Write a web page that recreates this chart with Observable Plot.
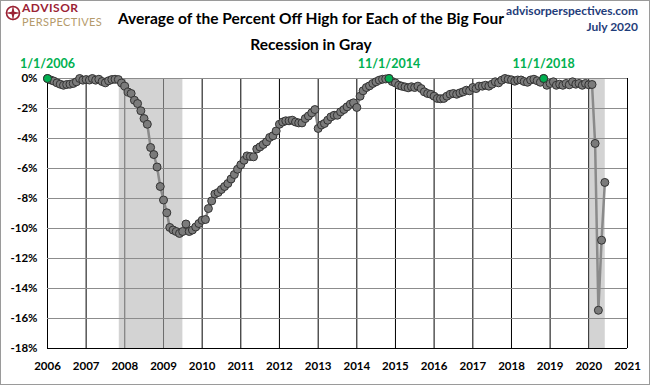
<!DOCTYPE html>
<html><head><meta charset="utf-8">
<script src="https://cdn.jsdelivr.net/npm/d3@7"></script>
<script src="https://cdn.jsdelivr.net/npm/@observablehq/plot@0.6"></script>
<style>
body{margin:0;background:#fff;font-family:Lato,"Open Sans",sans-serif;}
#wrap{position:relative;width:650px;height:385px;overflow:hidden;background:#fff;}
#chart{position:absolute;left:0;top:0;}
#border{position:absolute;left:0;top:0;width:650px;height:385px;box-sizing:border-box;border:1px solid #9a9a9a;pointer-events:none;}
.t{position:absolute;white-space:nowrap;}
</style></head><body>
<div id="wrap">
  <div id="chart"></div>
  <div class="t" style="left:0;width:622px;top:5px;text-align:center;font-weight:bold;font-size:15.5px;line-height:26px;color:#000;">Average of the Percent Off High for Each of the Big Four<br>Recession in Gray</div>
  <div class="t" style="right:12px;top:3px;text-align:right;font-weight:bold;font-size:12px;line-height:16px;color:#1f3d7a;">advisorperspectives.com<br>July 2020</div>
  <svg class="t" style="left:5px;top:5px;" width="16" height="16" viewBox="0 0 16 16">
    <circle cx="8" cy="8" r="6.5" fill="none" stroke="#9b2335" stroke-width="1.6"/>
    <path d="M8 0 L9.3 6.7 L16 8 L9.3 9.3 L8 16 L6.7 9.3 L0 8 L6.7 6.7 Z" fill="#9b2335"/>
  </svg>
  <div class="t" style="left:22px;top:1px;font-weight:bold;font-size:12px;line-height:14px;color:#9b2335;letter-spacing:0.5px;">ADVISOR</div>
  <div class="t" style="left:22px;top:15px;font-size:11px;line-height:13px;color:#b59b6b;letter-spacing:0.4px;">PERSPECTIVES</div>
  <div id="border"></div>
</div>
<script>
// Monthly series, starting January 2006
const startMonth = "2006-01-01";
const pctOffHigh = [
  0.00, -0.10, -0.17, -0.29, -0.38, -0.45, -0.40, -0.38, -0.33, -0.22, 0.00, -0.11,
  -0.07, -0.10, 0.00, -0.11, -0.05, -0.20, -0.29, -0.15, -0.07, -0.05, -0.07, -0.30,
  -0.51, -0.90, -1.00, -1.45, -1.67, -2.15, -2.67, -3.05, -4.60, -5.07, -5.90, -7.20,
  -8.10, -8.95, -9.93, -10.10, -10.20, -10.33, -10.20, -9.70, -10.20, -10.10, -9.90, -9.67,
  -9.45, -9.40, -8.67, -8.16, -7.70, -7.60, -7.40, -7.20, -7.00, -6.70, -6.40, -6.05,
  -5.75, -5.45, -5.16, -5.20, -5.22, -4.70, -4.56, -4.40, -4.22, -3.93, -3.82, -3.50,
  -3.05, -2.90, -2.82, -2.82, -2.78, -2.90, -2.96, -2.96, -2.67, -2.50, -2.29, -2.07,
  -3.33, -3.10, -3.00, -2.78, -2.56, -2.45, -2.45, -2.22, -2.07, -1.89, -1.71, -1.62,
  -1.93, -1.18, -0.82, -0.60, -0.49, -0.33, -0.22, -0.11, -0.05, -0.03, 0.00, -0.20,
  -0.30, -0.45, -0.51, -0.56, -0.62, -0.55, -0.60, -0.51, -0.67, -0.89, -1.00, -1.05,
  -1.18, -1.33, -1.35, -1.33, -1.18, -1.05, -1.00, -1.05, -0.96, -0.89, -0.78, -0.82,
  -0.60, -0.67, -0.51, -0.51, -0.45, -0.51, -0.38, -0.22, -0.29, -0.11, 0.00, -0.05,
  -0.09, -0.18, -0.10, -0.10, -0.20, -0.25, -0.10, -0.05, -0.15, -0.25, 0.00, -0.45,
  -0.33, -0.22, -0.45, -0.38, -0.45, -0.33, -0.42, -0.22, -0.38, -0.33, -0.45, -0.33,
  -0.42, -0.40, -4.33, -15.45, -10.78, -6.93
];
const highlightMonths = ["2006-01-01", "2014-11-01", "2018-11-01"];
const highlightLabels = ["1/1/2006", "11/1/2014", "11/1/2018"];
const recessionStarts = ["2007-11-10", "2020-01-10"];
const recessionEnds = ["2009-07-03", "2020-06-05"];
const yearTicks = [2006,2007,2008,2009,2010,2011,2012,2013,2014,2015,2016,2017,2018,2019,2020,2021];
const yTicks = [0,-2,-4,-6,-8,-10,-12,-14,-16,-18];

const start = new Date(startMonth);
const data = pctOffHigh.map((v, i) => ({date: d3.utcMonth.offset(start, i), v}));
const highlights = highlightMonths.map((m, i) => {
  const d = new Date(m);
  const row = data.find(r => +r.date === +d);
  return {date: d, v: row ? row.v : 0, label: highlightLabels[i]};
});
const recessions = recessionStarts.map((s, i) => ({start: new Date(s), end: new Date(recessionEnds[i])}));
const yearDates = yearTicks.map(y => new Date(Date.UTC(y, 0, 1)));

const font = "Lato, 'Open Sans', sans-serif";
const chart = Plot.plot({
  width: 650, height: 385,
  marginLeft: 47, marginRight: 23, marginTop: 78, marginBottom: 37,
  style: {fontFamily: font, background: "transparent", overflow: "visible"},
  x: {type: "utc", domain: [yearDates[0], yearDates[yearDates.length - 1]]},
  y: {domain: [-18, 0]},
  marks: [
    Plot.ruleX(yearDates, {stroke: "#000", strokeWidth: 1}),
    Plot.rect(recessions, {x1: "start", x2: "end", y1: -18, y2: 0, fill: "#b6b6b6", fillOpacity: 0.6}),
    Plot.ruleY(yTicks, {stroke: "#8c8c8c", strokeWidth: 1}),
    Plot.ruleY([-18], {stroke: "#000", strokeWidth: 1}),
    Plot.axisY(yTicks, {tickSize: 0, tickPadding: 10, tickFormat: d => `${d}%`, fontSize: 11.5, fontWeight: "bold", fill: "#000", label: null}),
    Plot.axisX(yearDates, {tickSize: 0, tickPadding: 13, tickFormat: d3.utcFormat("%Y"), fontSize: 11.5, fontWeight: "bold", fill: "#000", label: null}),
    Plot.line(data, {x: "date", y: "v", stroke: "#8a8a8a", strokeWidth: 2.5}),
    Plot.dot(data, {x: "date", y: "v", r: 4, fill: "#7b7b7b", stroke: "#333", strokeWidth: 1}),
    Plot.dot(highlights, {x: "date", y: "v", r: 4, fill: "#00b050", stroke: "#333", strokeWidth: 1}),
    Plot.text(highlights, {x: "date", y: "v", text: "label", dy: -15, fill: "#00b050", fontSize: 12.5, fontWeight: "bold"})
  ]
});
document.getElementById("chart").appendChild(chart);
</script>
</body></html>
